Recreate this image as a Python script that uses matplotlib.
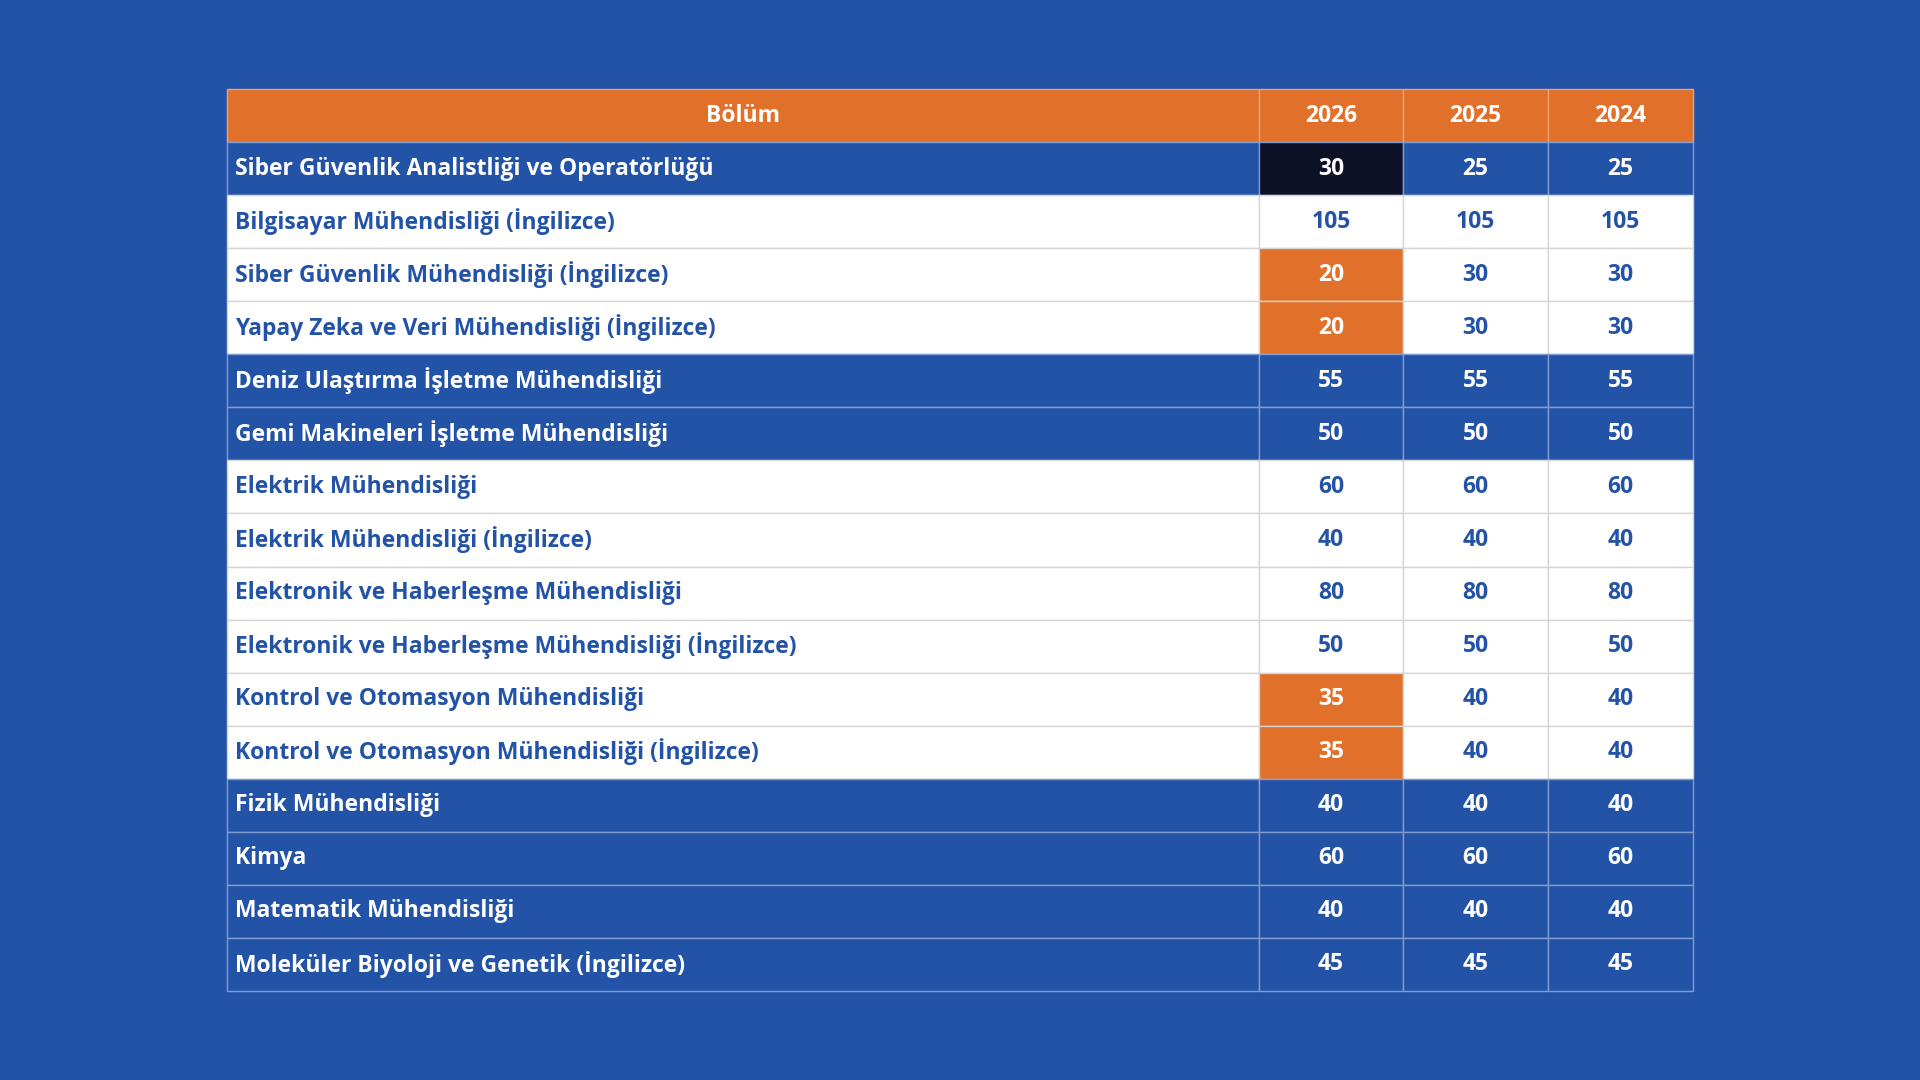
import matplotlib.pyplot as plt
from matplotlib.patches import Rectangle

plt.rcParams['font.family'] = ['Open Sans', 'DejaVu Sans']

departments = [
    'Siber Güvenlik Analistliği ve Operatörlüğü',
    'Bilgisayar Mühendisliği (İngilizce)',
    'Siber Güvenlik Mühendisliği (İngilizce)',
    'Yapay Zeka ve Veri Mühendisliği (İngilizce)',
    'Deniz Ulaştırma İşletme Mühendisliği',
    'Gemi Makineleri İşletme Mühendisliği',
    'Elektrik Mühendisliği',
    'Elektrik Mühendisliği (İngilizce)',
    'Elektronik ve Haberleşme Mühendisliği',
    'Elektronik ve Haberleşme Mühendisliği (İngilizce)',
    'Kontrol ve Otomasyon Mühendisliği',
    'Kontrol ve Otomasyon Mühendisliği (İngilizce)',
    'Fizik Mühendisliği',
    'Kimya',
    'Matematik Mühendisliği',
    'Moleküler Biyoloji ve Genetik (İngilizce)',
]
q2026 = [30, 105, 20, 20, 55, 50, 60, 40, 80, 50, 35, 35, 40, 60, 40, 45]
q2025 = [25, 105, 30, 30, 55, 50, 60, 40, 80, 50, 40, 40, 40, 60, 40, 45]
q2024 = [25, 105, 30, 30, 55, 50, 60, 40, 80, 50, 40, 40, 40, 60, 40, 45]
row_style = ['blue', 'white', 'white', 'white', 'blue', 'blue', 'white', 'white',
             'white', 'white', 'white', 'white', 'blue', 'blue', 'blue', 'blue']
mark2026 = ['dark', None, 'orange', 'orange', None, None, None, None,
            None, None, 'orange', 'orange', None, None, None, None]
headers = ['Bölüm', '2026', '2025', '2024']

BG = '#2353A6'
ORANGE = '#E1702B'
DARK = '#0D1128'
WHITE = '#FFFFFF'

W, H = 1568, 882
fig = plt.figure(figsize=(19.2, 10.8), dpi=100, facecolor=BG)
ax = fig.add_axes([0, 0, 1, 1])
ax.set_xlim(0, W)
ax.set_ylim(H, 0)
ax.axis('off')

xs = [185, 1028, 1146, 1264, 1383]
top, bottom = 73, 809
rh = (bottom - top) / 17
fs = 16.5

# header
for c in range(4):
    ax.add_patch(Rectangle((xs[c], top), xs[c+1]-xs[c], rh, facecolor=ORANGE,
                           edgecolor='#F0A070', lw=1))
    ax.text((xs[c]+xs[c+1])/2, top+rh/2, headers[c], color=WHITE, fontsize=fs,
            fontweight='bold', ha='center', va='center')

for i, name in enumerate(departments):
    y = top + rh*(i+1)
    blue = row_style[i] == 'blue'
    fc = BG if blue else WHITE
    ec = '#7F9CD0' if blue else '#D5D5D5'
    tc = WHITE if blue else BG
    vals = [q2026[i], q2025[i], q2024[i]]
    for c in range(4):
        cf = fc
        ctc = tc
        if c == 1 and mark2026[i] == 'orange':
            cf, ctc = ORANGE, WHITE
        elif c == 1 and mark2026[i] == 'dark':
            cf, ctc = DARK, WHITE
        ax.add_patch(Rectangle((xs[c], y), xs[c+1]-xs[c], rh, facecolor=cf,
                               edgecolor=ec, lw=1))
        if c == 0:
            ax.text(xs[0]+7, y+rh/2, name, color=ctc, fontsize=fs,
                    fontweight='bold', ha='left', va='center')
        else:
            ax.text((xs[c]+xs[c+1])/2, y+rh/2, str(vals[c-1]), color=ctc,
                    fontsize=fs, fontweight='bold', ha='center', va='center')

fig.savefig('out.png', dpi=100, facecolor=BG)
